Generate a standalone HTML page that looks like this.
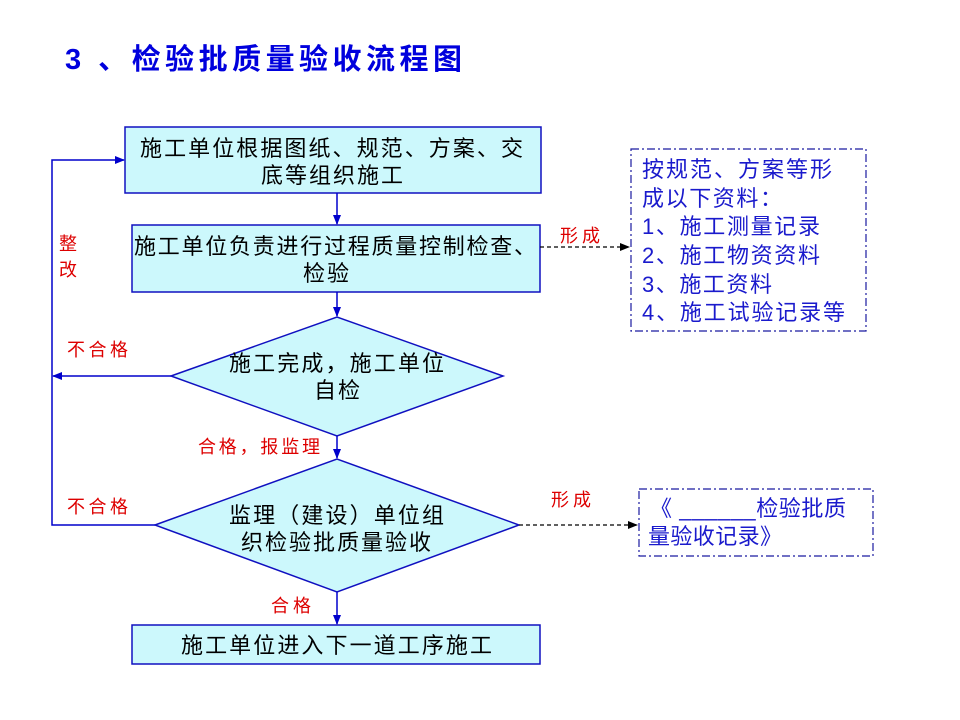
<!DOCTYPE html>
<html><head><meta charset="utf-8"><style>
body{margin:0;background:#fff}
svg{display:block;font-family:"Liberation Sans","Noto Sans CJK SC",sans-serif}
</style></head><body>
<svg width="960" height="720" viewBox="0 0 960 720">
<defs>
<marker id="a" markerWidth="10" markerHeight="8" refX="9" refY="4" orient="auto" markerUnits="userSpaceOnUse"><path d="M0,0 L10,4 L0,8 z" fill="#0000cc"/></marker>
<marker id="k" markerWidth="10" markerHeight="8" refX="9" refY="4" orient="auto" markerUnits="userSpaceOnUse"><path d="M0,0 L10,4 L0,8 z" fill="#000"/></marker>
</defs>
<text x="65" y="69" font-size="29" font-weight="bold" fill="#0000dd" textLength="397" lengthAdjust="spacing">3 、检验批质量验收流程图</text>
<g fill="#ccf8fc" stroke="#1010c0" stroke-width="1.5">
<rect x="125" y="127" width="416" height="66"/>
<rect x="132" y="225" width="408" height="67"/>
<polygon points="171,376 337,317 503,376 337,436"/>
<polygon points="155,525 337,459 519,525 337,592"/>
<rect x="132" y="625" width="408" height="39"/>
</g>
<g stroke="#0000cc" stroke-width="1.5" fill="none">
<line x1="337" y1="193" x2="337" y2="224" marker-end="url(#a)"/>
<line x1="337" y1="292" x2="337" y2="316" marker-end="url(#a)"/>
<line x1="337" y1="436" x2="337" y2="458" marker-end="url(#a)"/>
<line x1="337" y1="592" x2="337" y2="624" marker-end="url(#a)"/>
<polyline points="155,525 52,525 52,160 124,160" marker-end="url(#a)"/>
<line x1="171" y1="376" x2="53" y2="376" marker-end="url(#a)"/>
</g>
<g stroke="#000" stroke-width="1.2" stroke-dasharray="4,3" fill="none">
<line x1="540" y1="247" x2="629" y2="247" marker-end="url(#k)"/>
<line x1="519" y1="525" x2="637" y2="525" marker-end="url(#k)"/>
</g>
<g stroke="#1a1aa0" stroke-width="1.2" stroke-dasharray="8,3,2,3" fill="none">
<rect x="631" y="149" width="235" height="182"/>
<rect x="639" y="489" width="234" height="67"/>
</g>
<g font-size="22" fill="#000">
<text x="140" y="156" textLength="383" lengthAdjust="spacing">施工单位根据图纸、规范、方案、交</text>
<text x="261" y="183" textLength="142" lengthAdjust="spacing">底等组织施工</text>
<text x="134" y="254" textLength="402" lengthAdjust="spacing">施工单位负责进行过程质量控制检查、</text>
<text x="303" y="281" textLength="46" lengthAdjust="spacing">检验</text>
<text x="229" y="371" textLength="215" lengthAdjust="spacing">施工完成，施工单位</text>
<text x="314" y="398" textLength="46" lengthAdjust="spacing">自检</text>
<text x="229" y="523" textLength="215" lengthAdjust="spacing">监理（建设）单位组</text>
<text x="241" y="550" textLength="190" lengthAdjust="spacing">织检验批质量验收</text>
<text x="181" y="653" textLength="311" lengthAdjust="spacing">施工单位进入下一道工序施工</text>
</g>
<g font-size="22" fill="#1a1acc">
<text x="642" y="177" textLength="190" lengthAdjust="spacing">按规范、方案等形</text>
<text x="642" y="206" textLength="140" lengthAdjust="spacing">成以下资料：</text>
<text x="642" y="234" textLength="178" lengthAdjust="spacing">1、施工测量记录</text>
<text x="642" y="263" textLength="178" lengthAdjust="spacing">2、施工物资资料</text>
<text x="642" y="292" textLength="130" lengthAdjust="spacing">3、施工资料</text>
<text x="642" y="320" textLength="203" lengthAdjust="spacing">4、施工试验记录等</text>
<text x="650" y="516" textLength="196" lengthAdjust="spacing">《 ______检验批质</text>
<text x="648" y="544" textLength="134" lengthAdjust="spacing">量验收记录》</text>
</g>
<g font-size="18" fill="#dd0000">
<text x="560" y="242" textLength="40" lengthAdjust="spacing">形成</text>
<text x="551" y="506" textLength="40" lengthAdjust="spacing">形成</text>
<text x="59" y="250">整</text>
<text x="59" y="276">改</text>
<text x="67" y="356" textLength="61" lengthAdjust="spacing">不合格</text>
<text x="67" y="513" textLength="61" lengthAdjust="spacing">不合格</text>
<text x="198" y="453" textLength="122" lengthAdjust="spacing">合格，报监理</text>
<text x="271" y="612" textLength="40" lengthAdjust="spacing">合格</text>
</g>
</svg>
</body></html>
